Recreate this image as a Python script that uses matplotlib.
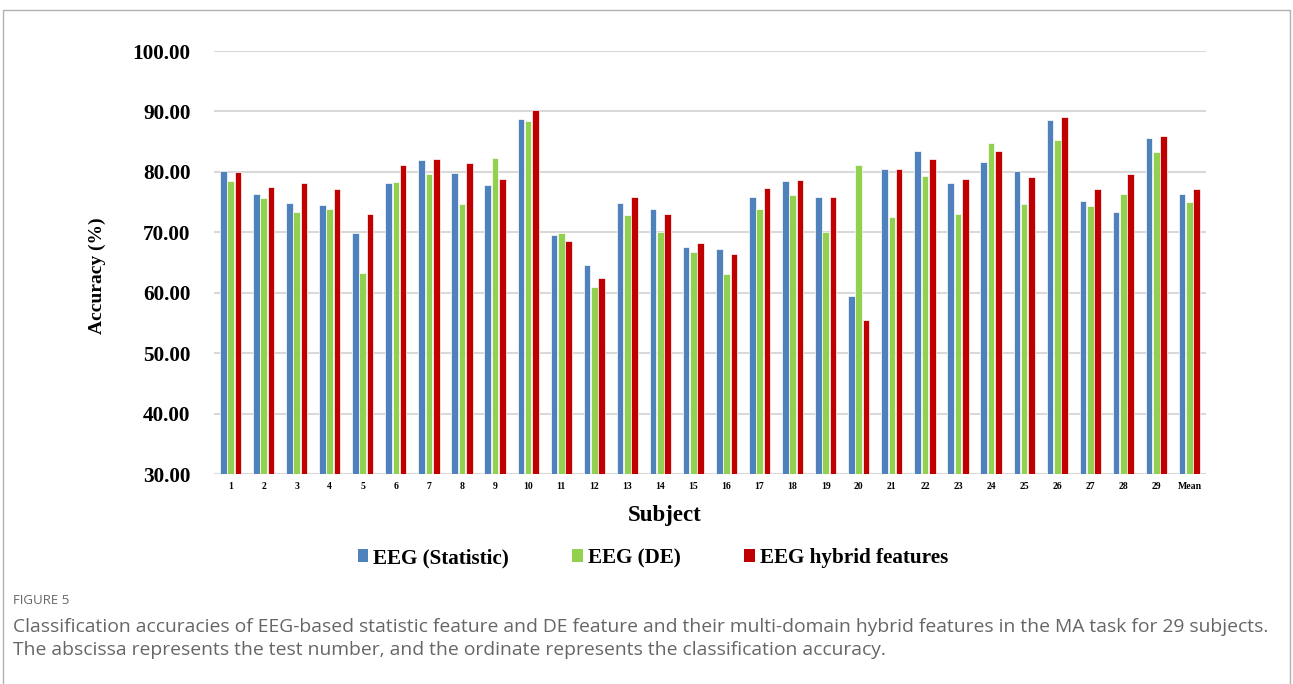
import matplotlib.pyplot as plt
from matplotlib.patches import Patch, Rectangle
import numpy as np

# accuracies (%) per subject
subjects = [str(i) for i in range(1, 30)] + ['Mean']

acc_statistic = [80.1, 76.3, 74.9, 74.5, 69.9, 78.1, 81.9, 79.8, 77.9, 88.8,
                 69.5, 64.6, 74.8, 73.9, 67.5, 67.2, 75.9, 78.5, 75.8, 59.5,
                 80.4, 83.5, 78.1, 81.7, 80.1, 88.6, 75.1, 73.3, 85.6, 76.4]
acc_de = [78.5, 75.6, 73.3, 73.9, 63.3, 78.4, 79.7, 74.7, 82.3, 88.4,
          69.8, 60.9, 72.9, 70.0, 66.8, 63.1, 73.9, 76.1, 70.1, 81.2,
          72.5, 79.3, 73.0, 84.7, 74.7, 85.3, 74.4, 76.4, 83.3, 75.0]
acc_hybrid = [80.0, 77.5, 78.1, 77.1, 73.1, 81.2, 82.2, 81.4, 78.9, 90.2,
              68.6, 62.4, 75.8, 73.1, 68.3, 66.4, 77.3, 78.6, 75.8, 55.5,
              80.5, 82.2, 78.8, 83.4, 79.2, 89.1, 77.1, 79.7, 85.9, 77.1]

labels = ['EEG (Statistic)', 'EEG (DE)', 'EEG hybrid features']
colors = ['#4F81BD', '#92D050', '#C00000']

W, H = 1293, 684
fig = plt.figure(figsize=(W / 100, H / 100), dpi=100)
serif = 'Liberation Serif'

# outer frame
fig.patches.append(Rectangle((3 / W, -0.1), (W - 6) / W, 1.1 - 10 / H,
                             transform=fig.transFigure, fill=False,
                             edgecolor='#b0b0b0', linewidth=1.0))

ax = fig.add_axes([214 / W, 1 - 474 / H, (1206 - 214) / W, (474 - 51) / H])

x = np.arange(len(subjects))
series = [acc_statistic, acc_de, acc_hybrid]
offsets = [-0.22, 0.0, 0.22]
for vals, off, c, lab in zip(series, offsets, colors, labels):
    ax.bar(x + off, np.array(vals) - 30, bottom=30, width=0.2, color=c,
           edgecolor='white', linewidth=0.5, label=lab, zorder=3)

ax.set_xlim(-0.5, len(subjects) - 0.5)
ax.set_ylim(30, 100)
ax.set_yticks(np.arange(30, 101, 10))
ax.set_yticklabels(['%.2f' % v for v in np.arange(30, 101, 10)],
                   fontfamily=serif, fontweight='bold', fontsize=15.3)
ax.set_xticks(x)
ax.set_xticklabels(subjects, fontfamily=serif, fontweight='bold', fontsize=7)
ax.tick_params(axis='both', length=0)
ax.tick_params(axis='y', pad=17)
ax.tick_params(axis='x', pad=6)
ax.grid(axis='y', color='#d9d9d9', linewidth=1.5, zorder=0)
for s in ax.spines.values():
    s.set_visible(False)

fig.text(97 / W, 1 - 276 / H, 'Accuracy (%)', rotation=90, ha='center', va='center',
         fontfamily=serif, fontweight='bold', fontsize=14)
fig.text(665 / W, 1 - 515 / H, 'Subject', ha='center', va='center',
         fontfamily=serif, fontweight='bold', fontsize=16.5)

handles = [Patch(facecolor=c) for c in colors]
fig.legend(handles, labels, loc='center', bbox_to_anchor=(653 / W, 1 - 558 / H),
           ncol=3, frameon=False, handlelength=0.5, handleheight=0.5,
           handletextpad=0.25, columnspacing=3.0,
           prop={'family': serif, 'weight': 'bold', 'size': 15.2})

fig.text(13 / W, 1 - 601 / H, 'FIGURE 5', ha='left', va='center',
         fontfamily='Open Sans', fontsize=9.5, color='#666666')
fig.text(13 / W, 1 - 627 / H,
         'Classification accuracies of EEG-based statistic feature and DE feature and their '
         'multi-domain hybrid features in the MA task for 29 subjects.',
         ha='left', va='center', fontfamily='Open Sans', fontsize=13.9, color='#666666')
fig.text(13 / W, 1 - 650 / H,
         'The abscissa represents the test number, and the ordinate represents the '
         'classification accuracy.',
         ha='left', va='center', fontfamily='Open Sans', fontsize=13.9, color='#666666')

fig.savefig('out.png', dpi=100)
